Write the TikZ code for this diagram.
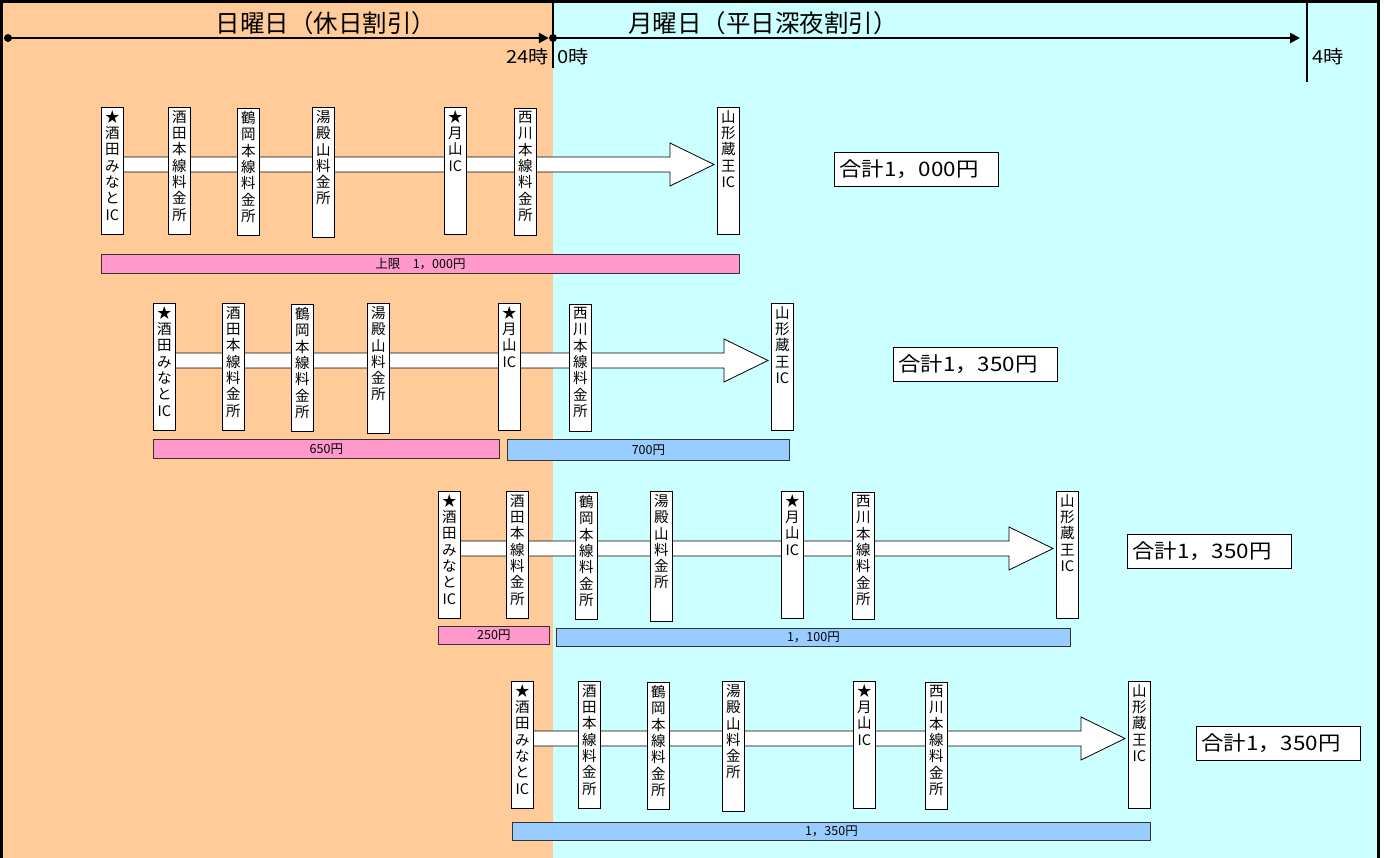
\documentclass[tikz,border=0pt]{standalone}
\usepackage{fontspec}
\setmainfont{Noto Sans CJK JP}
\usetikzlibrary{calc,arrows.meta}
\definecolor{sunC}{HTML}{FFCC99}
\definecolor{monC}{HTML}{CCFFFF}
\definecolor{pinkC}{HTML}{FF99CC}
\definecolor{blueC}{HTML}{99CCFF}
\pgfdeclarelayer{bg}
\pgfdeclarelayer{mid}
\pgfsetlayers{bg,mid,main}
\newcommand\vlab[2]{\vbox to #1pt{\hsize=22pt\parindent=0pt\centering\baselineskip=16.3pt\lineskiplimit=-20pt\vskip3pt #2\par\vfil}}
\newcommand\wide[1]{\scalebox{1.12}[1]{#1}}
\tikzset{
  stn/.style={draw=black, fill=white, line width=0.8pt, inner sep=0pt, anchor=north west, font=\fontsize{14.5}{16.3}\selectfont},
  band/.style={draw=black, fill=white, line width=0.8pt, line join=miter},
  barbox/.style={draw=black!80, line width=0.8pt, inner sep=0pt, anchor=north west, font=\fontsize{12.5}{14}\selectfont},
  totbox/.style={draw=black, fill=white, line width=0.8pt, inner sep=0pt, anchor=north west},
  tottxt/.style={anchor=west, inner sep=0pt, font=\fontsize{20}{24}\selectfont},
  dotnode/.style={circle, fill=black, inner sep=0pt, minimum size=8pt},
  tline/.style={line width=2.5pt, -{Triangle[length=10pt,width=10pt]}},
  ttl/.style={font=\fontsize{24.5}{30}\selectfont, inner sep=0pt},
  tlab/.style={font=\fontsize{18}{20}\selectfont, inner sep=0pt},
}
% #1 prefix, #2 top, #3..#9 left x of the seven boxes
\newcommand\strow[9]{%
  \node[stn] (#1a) at (#3,#2) {\vlab{127}{★\\酒\\田\\み\\な\\と\\IC}};
  \node[stn] (#1b) at (#4,#2) {\vlab{127}{酒\\田\\本\\線\\料\\金\\所}};
  \node[stn] (#1c) at (#5,#2+1) {\vlab{127}{鶴\\岡\\本\\線\\料\\金\\所}};
  \node[stn] (#1d) at (#6,#2) {\vlab{130}{湯\\殿\\山\\料\\金\\所}};
  \node[stn] (#1e) at (#7,#2) {\vlab{127}{★\\月\\山\\IC}};
  \node[stn] (#1f) at (#8,#2+1) {\vlab{127}{西\\川\\本\\線\\料\\金\\所}};
  \node[stn] (#1g) at (#9,#2) {\vlab{127}{山\\形\\蔵\\王\\IC}};
  \begin{pgfonlayer}{mid}
  \draw[band] ($(#1a.north)+(0,50)$) -- ($(#1g.north west)+(-47,50)$)
    -- ($(#1g.north west)+(-47,36)$) -- ($(#1g.north west)+(-3,57.5)$)
    -- ($(#1g.north west)+(-47,79)$) -- ($(#1g.north west)+(-47,65)$)
    -- ($(#1a.north)+(0,65)$) -- cycle;
  \end{pgfonlayer}
}
\begin{document}
\begin{tikzpicture}[x=1pt,y=-1pt]
\useasboundingbox (0,0) rectangle (1384,858);
\begin{pgfonlayer}{bg}
  \fill[white] (0,0) rectangle (1384,858);
  \fill[sunC] (0,0) rectangle (553,858);
  \fill[monC] (553,0) rectangle (1378,858);
\end{pgfonlayer}
% borders
\draw[line width=3pt] (1.5,858) -- (1.5,1.5) -- (1378,1.5) -- (1378,858);
\draw[line width=1.2pt] (553,0) -- (553,68);
\draw[line width=1.2pt] (1307,0) -- (1307,82);
% titles
\node[ttl] (sun) at (326,23) {日曜日（休日割引）};
\node[ttl] (mon) at (763,23) {月曜日（平日深夜割引）};
% timeline
\node[dotnode] (d1) at (8,38) {};
\node[dotnode] (d2) at (553,38) {};
\coordinate (e4) at (1300,38);
\draw[tline] (d1.center) -- (d2);
\draw[tline] (d2.center) -- (e4);
\node[tlab, anchor=east] (h24) at (549,57) {\wide{24時}};
\node[tlab, anchor=west] (h0) at (557,57) {\wide{0時}};
\node[tlab, anchor=west] (h4) at (1312,57) {\wide{4時}};
% rows
\strow{r}{107}{101}{168}{237}{312}{444}{514}{717}
\strow{s}{303}{153}{222}{291}{367}{498}{569}{771}
\strow{t}{491}{438}{506}{575}{650}{781}{852}{1056}
\strow{u}{681}{511}{578}{647}{722}{853}{925}{1128}
% bars
\node[barbox, fill=pinkC, minimum width=638pt, minimum height=19pt] (p1) at (101,254) {上限　1，000円};
\node[barbox, fill=pinkC, minimum width=346pt, minimum height=19pt] (p2) at (153,439) {650円};
\node[barbox, fill=blueC, minimum width=282pt, minimum height=21pt] (b2) at (507,439) {700円};
\node[barbox, fill=pinkC, minimum width=111pt, minimum height=18pt] (p3) at (438,626) {250円};
\node[barbox, fill=blueC, minimum width=514pt, minimum height=18pt] (b3) at (556,628) {1，100円};
\node[barbox, fill=blueC, minimum width=638pt, minimum height=18pt] (b4) at (512,822) {1，350円};
% totals
\node[totbox, minimum width=164pt, minimum height=34pt] (k1) at (834,152) {};
\node[tottxt] (k1t) at ($(k1.west)+(5,0)$) {\wide{合計1，000円}};
\node[totbox, minimum width=164pt, minimum height=34pt] (k2) at (893,347) {};
\node[tottxt] (k2t) at ($(k2.west)+(5,0)$) {\wide{合計1，350円}};
\node[totbox, minimum width=164pt, minimum height=34pt] (k3) at (1127,534) {};
\node[tottxt] (k3t) at ($(k3.west)+(5,0)$) {\wide{合計1，350円}};
\node[totbox, minimum width=164pt, minimum height=34pt] (k4) at (1196,726) {};
\node[tottxt] (k4t) at ($(k4.west)+(5,0)$) {\wide{合計1，350円}};
\end{tikzpicture}
\end{document}
